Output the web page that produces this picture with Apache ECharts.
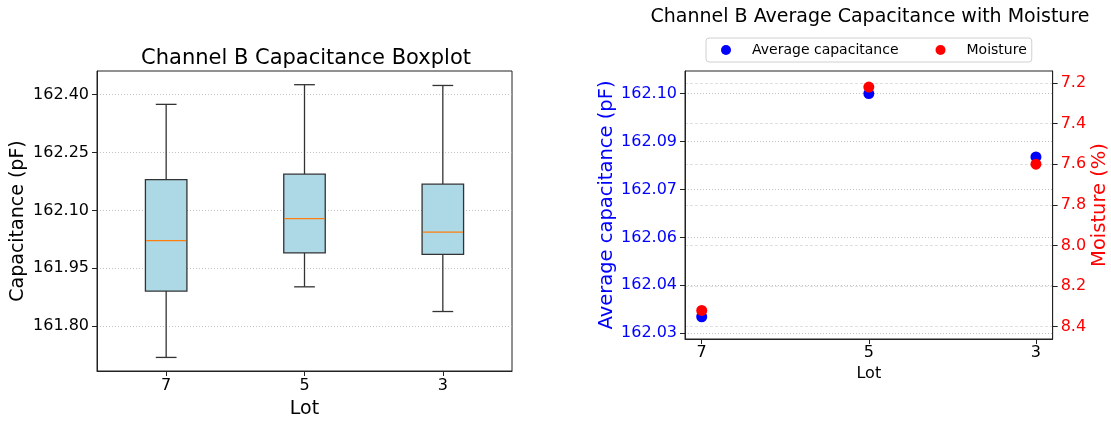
<!DOCTYPE html>
<html>
<head>
<meta charset="utf-8">
<script src="https://cdn.jsdelivr.net/npm/echarts@6/dist/echarts.min.js"></script>
<style>html,body{margin:0;padding:0;background:#fff}#c{width:1111px;height:424px}</style>
</head>
<body>
<div id="c"></div>
<script>
// ---- data ----
const lots = ['7', '5', '3'];
const boxLow = [161.719, 161.902, 161.838];
const boxQ1 = [161.891, 161.990, 161.986];
const boxMedian = [162.022, 162.079, 162.044];
const boxQ3 = [162.180, 162.194, 162.168];
const boxHigh = [162.375, 162.426, 162.424];
const avgCapacitance = [162.0348, 162.100, 162.0815];
const moisture = [8.32, 7.22, 7.60];
const boxTicks = [161.80, 161.95, 162.10, 162.25, 162.40];
const capTicks = [162.030, 162.044, 162.058, 162.072, 162.086, 162.100];
const moistTicks = [7.2, 7.4, 7.6, 7.8, 8.0, 8.2, 8.4];

const FONT = 'DejaVu Sans';
const chart = echarts.init(document.getElementById('c'), null, {renderer: 'canvas'});

const boxData = lots.map((l, i) => [i, boxLow[i], boxQ1[i], boxMedian[i], boxQ3[i], boxHigh[i]]);
const capData = avgCapacitance.map((v, i) => [i, v]);
const moistData = moisture.map((v, i) => [i, v]);

function renderBox(params, api) {
  const x = api.value(0);
  const band = api.size([1, 0])[0];
  const bw = band * 0.3, cw = band * 0.15;
  const pLow = api.coord([x, api.value(1)]);
  const pQ1 = api.coord([x, api.value(2)]);
  const pMed = api.coord([x, api.value(3)]);
  const pQ3 = api.coord([x, api.value(4)]);
  const pHigh = api.coord([x, api.value(5)]);
  const cx = pLow[0];
  const line = {stroke: '#333', lineWidth: 1.3};
  return {
    type: 'group',
    children: [
      {type: 'line', shape: {x1: cx, y1: pQ1[1], x2: cx, y2: pLow[1]}, style: line},
      {type: 'line', shape: {x1: cx, y1: pQ3[1], x2: cx, y2: pHigh[1]}, style: line},
      {type: 'line', shape: {x1: cx - cw / 2, y1: pLow[1], x2: cx + cw / 2, y2: pLow[1]}, style: line},
      {type: 'line', shape: {x1: cx - cw / 2, y1: pHigh[1], x2: cx + cw / 2, y2: pHigh[1]}, style: line},
      {type: 'rect', shape: {x: cx - bw / 2, y: pQ3[1], width: bw, height: pQ1[1] - pQ3[1]},
        style: {fill: '#add8e6', stroke: '#333', lineWidth: 1.3}},
      {type: 'line', shape: {x1: cx - bw / 2 + 0.7, y1: pMed[1], x2: cx + bw / 2 - 0.7, y2: pMed[1]},
        style: {stroke: '#ff7f0e', lineWidth: 1.3}}
    ]
  };
}

const tickStyle = {show: true, length: 5, lineStyle: {color: '#222', width: 1}};
const axisLineStyle = {show: true, onZero: false, lineStyle: {color: '#222', width: 1}};

chart.setOption({
  animation: false,
  textStyle: {fontFamily: FONT},
  title: [
    {text: 'Channel B Capacitance Boxplot', left: 306, top: 48, textAlign: 'center', padding: 0,
      textStyle: {fontFamily: FONT, fontSize: 21, fontWeight: 'normal', color: '#000'}},
    {text: 'Channel B Average Capacitance with Moisture', left: 870, top: 8, textAlign: 'center', padding: 0,
      textStyle: {fontFamily: FONT, fontSize: 19, fontWeight: 'normal', color: '#000'}}
  ],
  legend: {
    data: ['Average capacitance', 'Moisture'],
    left: 706, top: 38,
    padding: [5, 5, 5, 15],
    itemGap: 37,
    icon: 'circle', itemWidth: 10, itemHeight: 10,
    borderColor: '#d0d0d0', borderWidth: 1, borderRadius: 3,
    formatter: name => '{s|}' + name,
    textStyle: {fontFamily: FONT, fontSize: 14, color: '#000', rich: {s: {width: 16}}}
  },
  grid: [
    {left: 97, top: 71, width: 415, height: 303, show: true, borderColor: '#222', borderWidth: 1, backgroundColor: 'transparent'},
    {left: 685, top: 71, width: 369, height: 268, show: true, borderColor: '#222', borderWidth: 1, backgroundColor: 'transparent'}
  ],
  xAxis: [
    {gridIndex: 0, type: 'category', data: lots, boundaryGap: true,
      axisLine: axisLineStyle, axisTick: Object.assign({alignWithLabel: true}, tickStyle),
      axisLabel: {fontSize: 16, color: '#000', margin: 7, fontFamily: FONT},
      name: 'Lot', nameLocation: 'middle', nameGap: 29, nameTextStyle: {fontSize: 19, color: '#000', fontFamily: FONT},
      splitLine: {show: false}},
    {gridIndex: 1, type: 'value', min: -0.1, max: 2.1,
      axisLine: axisLineStyle,
      axisTick: Object.assign({customValues: [0, 1, 2]}, tickStyle),
      axisLabel: {customValues: [0, 1, 2], formatter: v => lots[Math.round(v)], fontSize: 16, color: '#000', margin: 6, fontFamily: FONT},
      name: 'Lot', nameLocation: 'middle', nameGap: 26, nameTextStyle: {fontSize: 16, color: '#000', fontFamily: FONT},
      splitLine: {show: false}}
  ],
  yAxis: [
    {gridIndex: 0, type: 'value', min: 161.6838, max: 162.4615,
      axisLine: axisLineStyle,
      axisTick: Object.assign({customValues: boxTicks}, tickStyle),
      axisLabel: {customValues: boxTicks, formatter: v => v.toFixed(2), fontSize: 16, color: '#000', margin: 8, fontFamily: FONT},
      splitLine: {show: true, lineStyle: {color: '#b4b4b4', type: [1, 2], width: 0.8}},
      name: 'Capacitance (pF)', nameLocation: 'middle', nameGap: 69, nameTextStyle: {fontSize: 19, color: '#000', fontFamily: FONT}},
    {gridIndex: 1, type: 'value', min: 162.0283, max: 162.1066,
      axisLine: axisLineStyle,
      axisTick: Object.assign({customValues: capTicks}, tickStyle),
      axisLabel: {customValues: capTicks, formatter: v => v.toFixed(2), fontSize: 16, color: '#0000ff', margin: 8, fontFamily: FONT},
      splitLine: {show: true, lineStyle: {color: '#b4b4b4', type: [1, 2], width: 0.8}},
      name: 'Average capacitance (pF)', nameLocation: 'middle', nameGap: 64, nameTextStyle: {fontSize: 19.5, color: '#0000ff', fontFamily: FONT}},
    {gridIndex: 1, type: 'value', position: 'right', inverse: true, min: 7.141, max: 8.4605,
      axisLine: axisLineStyle,
      axisTick: Object.assign({customValues: moistTicks}, tickStyle),
      axisLabel: {customValues: moistTicks, formatter: v => v.toFixed(1), fontSize: 16, color: '#ff0000', margin: 8, fontFamily: FONT},
      splitLine: {show: true, lineStyle: {color: '#d8d8d8', type: [3, 2], width: 0.8}},
      name: 'Moisture (%)', nameLocation: 'middle', nameGap: 36, nameTextStyle: {fontSize: 19.5, color: '#ff0000', fontFamily: FONT}}
  ],
  series: [
    {type: 'custom', xAxisIndex: 0, yAxisIndex: 0, renderItem: renderBox, data: boxData, clip: false},
    {name: 'Average capacitance', type: 'scatter', xAxisIndex: 1, yAxisIndex: 1, data: capData,
      symbol: 'circle', symbolSize: 11, itemStyle: {color: '#0000ff', opacity: 1}},
    {name: 'Moisture', type: 'scatter', xAxisIndex: 1, yAxisIndex: 2, data: moistData,
      symbol: 'circle', symbolSize: 11, itemStyle: {color: '#ff0000', opacity: 1}}
  ]
});
</script>
</body>
</html>
